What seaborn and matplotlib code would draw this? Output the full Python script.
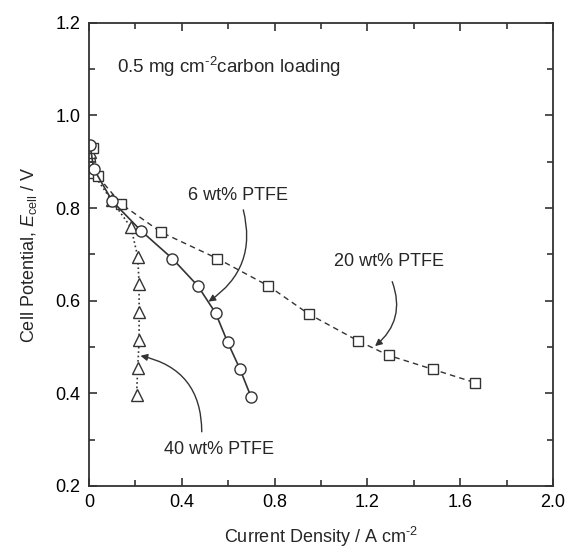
import matplotlib
matplotlib.use("Agg")
import matplotlib.pyplot as plt
import seaborn as sns
import pandas as pd

# --- data ---
j_6 = [0.005, 0.02, 0.10, 0.224, 0.359, 0.469, 0.546, 0.597, 0.651, 0.698]
e_6 = [0.935, 0.885, 0.815, 0.751, 0.691, 0.632, 0.573, 0.511, 0.452, 0.393]

j_20 = [0.019, 0.037, 0.138, 0.310, 0.553, 0.773, 0.948, 1.161, 1.291, 1.481, 1.664]
e_20 = [0.930, 0.869, 0.809, 0.748, 0.691, 0.632, 0.571, 0.513, 0.482, 0.452, 0.423]

j_40 = [0.005, 0.014, 0.097, 0.181, 0.210, 0.216, 0.216, 0.216, 0.210, 0.205]
e_40 = [0.920, 0.877, 0.817, 0.758, 0.695, 0.636, 0.576, 0.515, 0.455, 0.396]

x_ticks = [0, 0.4, 0.8, 1.2, 1.6, 2.0]
x_tick_labels = ['0', '0.4', '0.8', '1.2', '1.6', '2.0']
y_ticks = [0.2, 0.4, 0.6, 0.8, 1.0, 1.2]
y_tick_labels = ['0.2', '0.4', '0.6', '0.8', '1.0', '1.2']

sns.set_style("ticks")
plt.rcParams['font.family'] = ['Liberation Sans', 'DejaVu Sans']
plt.rcParams['mathtext.fontset'] = 'custom'
plt.rcParams['mathtext.rm'] = 'Liberation Sans'
plt.rcParams['mathtext.it'] = 'Liberation Sans:italic'

FS = 13
dark = '#333333'
HY = '\u2010'  # short hyphen for the exponent, like the original

fig = plt.figure(figsize=(5.68, 5.52), dpi=100)
ax = fig.add_axes([89 / 568, 66 / 552, 464 / 568, 463.3 / 552])

df6 = pd.DataFrame({'j': j_6, 'E': e_6})
df20 = pd.DataFrame({'j': j_20, 'E': e_20})
df40 = pd.DataFrame({'j': j_40, 'E': e_40})

common = dict(mfc='white', mec=dark, mew=1.0, color=dark, sort=False, estimator=None, ax=ax)
sns.lineplot(data=df40, x='j', y='E', linestyle=':', lw=1.2, marker='^', ms=8.5, **common)
sns.lineplot(data=df20, x='j', y='E', linestyle=(0, (4, 3)), lw=1.0, marker='s', ms=7, **common)
sns.lineplot(data=df6, x='j', y='E', linestyle='-', lw=1.2, marker='o', ms=8, **common)

ax.set_xlim(0, 2.0)
ax.set_ylim(0.2, 1.2)
ax.set_xticks(x_ticks)
ax.set_xticklabels(x_tick_labels)
ax.set_yticks(y_ticks)
ax.set_yticklabels(y_tick_labels)
ax.set_xticks([0.2, 0.6, 1.0, 1.4, 1.8], minor=True)
ax.set_yticks([0.3, 0.5, 0.7, 0.9, 1.1], minor=True)
ax.tick_params(which='both', direction='in', top=True, right=True, colors=dark,
               labelcolor='black', labelsize=FS, width=1.2)
ax.tick_params(which='major', length=6, pad=6)
ax.tick_params(which='minor', length=4)
for s in ax.spines.values():
    s.set_visible(True)
    s.set_color(dark)
    s.set_linewidth(1.3)

ax.set_xlabel('Current Density / A cm$^{' + HY + '2}$', fontsize=FS, labelpad=10)
ax.set_ylabel('Cell Potential, $E_{\\mathrm{cell}}$ / V', fontsize=FS, labelpad=12)

ax.text(0.12, 1.104, '0.5 mg cm$^{' + HY + '2}$carbon loading', fontsize=13.5, va='center', ha='left')

arr = dict(arrowstyle='-|>', color=dark, lw=1.0, mutation_scale=10, shrinkA=0, shrinkB=0)
ax.text(0.643, 0.828, '6 wt% PTFE', fontsize=FS, ha='center', va='center')
ax.annotate('', xy=(0.515, 0.598), xytext=(0.665, 0.796),
            arrowprops=dict(connectionstyle='arc3,rad=-0.35', **arr))

ax.text(1.293, 0.684, '20 wt% PTFE', fontsize=FS, ha='center', va='center')
ax.annotate('', xy=(1.233, 0.502), xytext=(1.307, 0.641),
            arrowprops=dict(connectionstyle='arc3,rad=-0.35', **arr))

ax.text(0.56, 0.278, '40 wt% PTFE', fontsize=FS, ha='center', va='center')
ax.annotate('', xy=(0.222, 0.481), xytext=(0.486, 0.317),
            arrowprops=dict(connectionstyle='arc3,rad=0.4', **arr))

fig.savefig('out.png', dpi=100)
